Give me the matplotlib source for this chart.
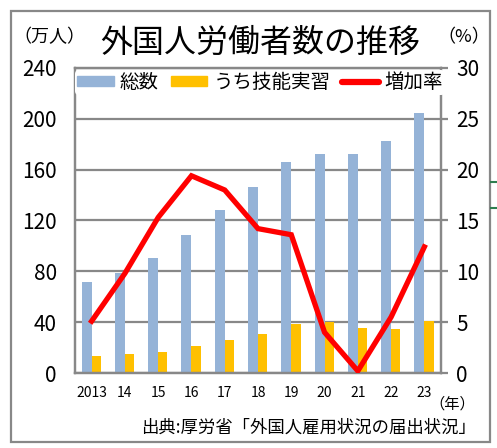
import numpy as np
import matplotlib
matplotlib.use("Agg")
import matplotlib.pyplot as plt
from matplotlib.patches import Rectangle
from matplotlib.lines import Line2D

plt.rcParams['font.family'] = ['Noto Sans CJK JP', 'DejaVu Sans']

# data (万人 / %)
years = ['2013', '14', '15', '16', '17', '18', '19', '20', '21', '22', '23']
total = [71.8, 78.8, 90.8, 108.4, 127.9, 146.0, 165.9, 172.4, 172.7, 182.3, 204.9]
trainee = [13.6, 14.6, 16.8, 21.1, 25.8, 30.8, 38.4, 40.2, 35.2, 34.3, 41.2]
growth = [5.1, 9.8, 15.3, 19.4, 18.0, 14.2, 13.6, 4.0, 0.2, 5.5, 12.4]

blue = '#95B3D7'
yellow = '#FFC000'
red = '#FF0000'
grey = '#888888'

fig = plt.figure(figsize=(4.97, 4.48), dpi=100)
ax = fig.add_axes([75/497, 75/448, 366/497, 305/448])
x = np.arange(len(years))

ax.bar(x - 0.15, total, width=0.30, color=blue, zorder=2)
ax.bar(x + 0.14, trainee, width=0.28, color=yellow, zorder=2)

ax.set_xlim(-0.5, len(years) - 0.5)
ax.set_ylim(0, 240)
ax.set_yticks(range(0, 241, 40))
ax.grid(axis='y', color=grey, linewidth=1.6, zorder=1)
ax.set_xticks(x)
ax.set_xticklabels(years, fontsize=10)
ax.tick_params(axis='x', length=0, pad=9)
ax.tick_params(axis='y', length=0, pad=13, labelsize=15)
for s in ax.spines.values():
    s.set_color(grey)
    s.set_linewidth(1.6)

ax2 = ax.twinx()
ax2.plot(x, growth, color=red, linewidth=3.8, solid_joinstyle='miter', zorder=3)
ax2.set_ylim(0, 30)
ax2.set_yticks(range(0, 31, 5))
ax2.tick_params(axis='y', length=5, width=1.6, color=grey, pad=6, labelsize=15)
for s in ax2.spines.values():
    s.set_color(grey)
    s.set_linewidth(1.6)

handles = [Rectangle((0, 0), 1, 1, color=blue), Rectangle((0, 0), 1, 1, color=yellow),
           Line2D([], [], color=red, linewidth=4.5, solid_capstyle='round')]
leg = ax2.legend(handles, ['総数', 'うち技能実習', '増加率'], loc='upper left',
                 bbox_to_anchor=(-0.005, 1.0), ncol=3, frameon=True, fontsize=14,
                 handlelength=1.9, handleheight=0.45, handletextpad=0.3,
                 columnspacing=0.6, borderaxespad=0.1, borderpad=0.1)
leg.get_frame().set_edgecolor('none')
leg.get_frame().set_facecolor('white')
leg.get_frame().set_alpha(1)

fig.text(100/497, 1 - 43/448, '外国人労働者数の推移', fontsize=23, va='center', ha='left')
fig.text(13/497, 1 - 37/448, '（万人）', fontsize=13, va='center', ha='left')
fig.text(490/497, 1 - 37/448, '（%）', fontsize=13, va='center', ha='right')
fig.text(475/497, 1 - 404/448, '（年）', fontsize=11, va='center', ha='right')
fig.text(476/497, 1 - 428/448, '出典:厚労省「外国人雇用状況の届出状況」', fontsize=12.5,
         va='center', ha='right')

# outer frame
fig.add_artist(Rectangle((11/497, 1 - 442/448), 479/497, 431/448, transform=fig.transFigure,
                         fill=False, edgecolor=grey, linewidth=1.6))
for yy in (182, 208):
    fig.add_artist(Line2D([491/497, 497/497], [1 - yy/448] * 2, transform=fig.transFigure,
                          color='#2E7D4F', linewidth=1.5))

fig.savefig('out.png', dpi=100)
